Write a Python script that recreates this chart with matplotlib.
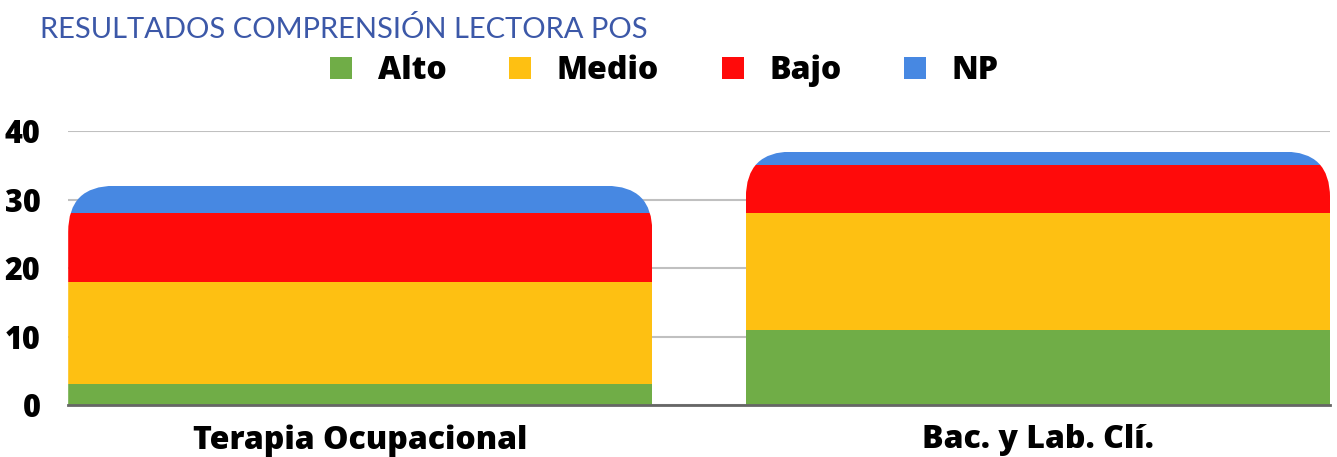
import matplotlib
matplotlib.use("Agg")
import matplotlib.pyplot as plt
from matplotlib.patches import FancyBboxPatch
import numpy as np

# data
carreras = ["Terapia Ocupacional", "Bac. y Lab. Clí."]
niveles = ["Alto", "Medio", "Bajo", "NP"]
alto = [3, 11]
medio = [15, 17]
bajo = [10, 7]
np_vals = [4, 2]
colores = ["#70ad47", "#fec012", "#ff0a0a", "#4788e2"]

plt.rcParams['font.family'] = ['Open Sans', 'DejaVu Sans']

fig = plt.figure(figsize=(13.37, 4.57), dpi=100)
ax = fig.add_axes([0.051, 0.1138, 0.9438, 0.5995])

x = np.arange(len(carreras))
ancho = 0.862
series = [alto, medio, bajo, np_vals]
base = np.zeros(len(carreras))
grupos = []
for vals, nombre, col in zip(series, niveles, colores):
    b = ax.bar(x, vals, ancho, bottom=base, color=col, label=nombre,
               linewidth=0, zorder=3)
    grupos.append(b)
    base = base + np.array(vals)

ax.set_xlim(x[0] - ancho / 2, x[-1] + ancho / 2)
ax.set_ylim(0, 40)
ax.set_yticks([0, 10, 20, 30, 40])
ax.yaxis.grid(True, color="#c0c0c0", linewidth=1.5, zorder=0)
ax.set_axisbelow(True)
for s in ["top", "right", "left"]:
    ax.spines[s].set_visible(False)
ax.spines["bottom"].set_color("#666666")
ax.spines["bottom"].set_linewidth(2)
ax.spines["bottom"].set_zorder(4)
ax.tick_params(length=0)
ax.tick_params(axis="y", pad=20, labelsize=22)
ax.tick_params(axis="x", pad=14, labelsize=23)
ax.set_xticks(x)
ax.set_xticklabels(carreras)
for lab in ax.get_xticklabels() + ax.get_yticklabels():
    lab.set_fontweight(800)

# rounded top corners on each stack
p0 = ax.transData.transform((0, 0))
p1 = ax.transData.transform((1, 1))
px_x = p1[0] - p0[0]
px_y = p1[1] - p0[1]
radio = 46 / px_x
aspecto = px_x / px_y
for i in range(len(carreras)):
    r = grupos[0][i]
    clip = FancyBboxPatch((r.get_x(), -10), r.get_width(), base[i] + 10,
                          boxstyle="round,pad=0,rounding_size=%f" % radio,
                          mutation_aspect=aspecto, transform=ax.transData)
    for g in grupos:
        g[i].set_clip_path(clip)

fig.legend(loc="center", bbox_to_anchor=(0.497, 0.845), ncol=4, frameon=False,
           prop={"weight": 800, "size": 23}, handlelength=0.7, handleheight=0.7,
           handletextpad=0.8, columnspacing=1.95)

fig.text(0.03, 0.935, "RESULTADOS COMPRENSIÓN LECTORA POS", color="#3c58a8",
         fontsize=21, fontweight="normal", family=["Lato", "DejaVu Sans"],
         va="center", ha="left")

fig.savefig("out.png", dpi=100)
